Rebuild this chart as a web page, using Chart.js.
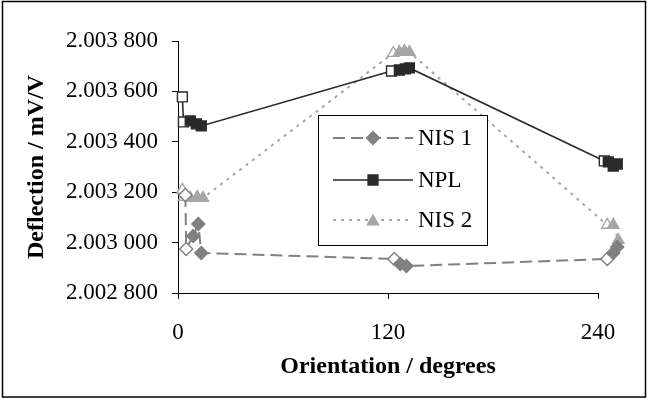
<!DOCTYPE html>
<html>
<head>
<meta charset="utf-8">
<script src="https://cdn.jsdelivr.net/npm/chart.js@4/dist/chart.umd.min.js"></script>
<style>
  html, body { margin: 0; padding: 0; background: #fff; }
  #wrap { width: 648px; height: 399px; }
</style>
</head>
<body>
<div id="wrap"><canvas id="c" width="648" height="399"></canvas></div>
<script>
// Series names and axis ticks
const seriesNames = ['NIS 1', 'NPL', 'NIS 2'];
const xTicks = [0, 120, 240];
const yTicks = [2.0028, 2.0030, 2.0032, 2.0034, 2.0036, 2.0038];

// Readings: orientation in degrees (offset slightly within each group) and deflection in mV/V.
// Open markers flag the first readings of a group.
const nis1X = [4.2, 4.7, 8.7, 11.6, 13.3, 123.6, 127.0, 130.5, 245.3, 248.7, 251.0];
const nis1Y = [2.003189, 2.002975, 2.003026, 2.003074, 2.002959, 2.002935, 2.002915, 2.002907, 2.002935, 2.002959, 2.002983];
const nis1Open = [1, 1, 0, 0, 0, 1, 0, 0, 1, 0, 0];

const nplX = [2.5, 3.1, 7.0, 10.5, 13.3, 122.0, 126.5, 129.9, 132.2, 243.6, 245.9, 248.7, 251.0];
const nplY = [2.003578, 2.003479, 2.003483, 2.003471, 2.003463, 2.003681, 2.003685, 2.003689, 2.003693, 2.003324, 2.003320, 2.003304, 2.003312];
const nplOpen = [1, 1, 0, 0, 0, 1, 0, 0, 0, 1, 0, 0, 0];

const nis2X = [2.5, 3.5, 7.0, 11.0, 14.3, 123.0, 126.5, 129.4, 132.2, 245.3, 248.7, 251.6];
const nis2Y = [2.003209, 2.003181, 2.003177, 2.003181, 2.003177, 2.003752, 2.003756, 2.003760, 2.003756, 2.003070, 2.003070, 2.003010];
const nis2Open = [1, 1, 0, 0, 0, 1, 0, 0, 0, 1, 0, 0];

const points = (xs, ys) => xs.map((x, i) => ({ x: x, y: ys[i] }));
const fills = (open, color) => open.map(o => (o ? '#ffffff' : color));

const SERIF = '"Liberation Serif", "Times New Roman", Times, serif';

const styles = [
  { color: '#808080', dash: [12, 6], width: 2, marker: 'rectRot', radius: 6.5 },
  { color: '#2a2a2a', dash: [], width: 1.6, marker: 'rect', radius: 7 },
  { color: '#a6a6a6', dash: [3, 5], width: 2, marker: 'triangle', radius: 6.5 }
];

const seriesData = [
  { xs: nis1X, ys: nis1Y, open: nis1Open },
  { xs: nplX, ys: nplY, open: nplOpen },
  { xs: nis2X, ys: nis2Y, open: nis2Open }
];

const datasets = seriesData.map((s, i) => ({
  label: seriesNames[i],
  data: points(s.xs, s.ys),
  showLine: true,
  tension: 0,
  clip: false,
  borderColor: styles[i].color,
  borderWidth: styles[i].width,
  borderDash: styles[i].dash,
  pointStyle: styles[i].marker,
  pointRadius: styles[i].radius,
  pointHoverRadius: styles[i].radius,
  pointBackgroundColor: fills(s.open, styles[i].color),
  pointBorderColor: styles[i].color,
  pointBorderWidth: 1.4
}));

// Marker shapes for the boxed legend
function drawMarker(ctx, kind, x, y, r) {
  ctx.beginPath();
  if (kind === 'rect') {
    const h = r * Math.SQRT1_2;
    ctx.rect(x - h, y - h, 2 * h, 2 * h);
  } else if (kind === 'rectRot') {
    ctx.moveTo(x, y - r); ctx.lineTo(x + r, y); ctx.lineTo(x, y + r); ctx.lineTo(x - r, y); ctx.closePath();
  } else {
    for (let k = 0; k < 3; k++) {
      const t = -Math.PI / 2 + k * 2 * Math.PI / 3;
      const px = x + r * Math.cos(t), py = y + r * Math.sin(t) + r * 0.25;
      if (k === 0) ctx.moveTo(px, py); else ctx.lineTo(px, py);
    }
    ctx.closePath();
  }
  ctx.fill();
  ctx.stroke();
}

// Markers past the 240 degree end of the axis are still drawn
const markerArea = {
  id: 'markerArea',
  beforeDatasetsDraw(chart) {
    chart.$savedArea = chart.chartArea;
    chart.chartArea = Object.assign({}, chart.chartArea, { right: chart.width });
  },
  afterDatasetsDraw(chart) {
    if (chart.$savedArea) chart.chartArea = chart.$savedArea;
  }
};

const boxLegend = {
  id: 'boxLegend',
  afterDraw(chart) {
    const ctx = chart.ctx;
    const bx = 318, by = 115, bw = 169, bh = 130;
    ctx.save();
    ctx.fillStyle = '#fff';
    ctx.fillRect(bx, by, bw, bh);
    ctx.strokeStyle = '#000';
    ctx.lineWidth = 1;
    ctx.setLineDash([]);
    ctx.strokeRect(bx + 0.5, by + 0.5, bw, bh);
    const rows = [138, 180, 220];
    chart.data.datasets.forEach((ds, i) => {
      const y = rows[i];
      const st = styles[i];
      ctx.strokeStyle = st.color;
      ctx.lineWidth = st.width;
      ctx.setLineDash(st.dash);
      ctx.beginPath();
      ctx.moveTo(333, y); ctx.lineTo(413, y);
      ctx.stroke();
      ctx.setLineDash([]);
      ctx.fillStyle = st.color;
      ctx.lineWidth = 1.4;
      drawMarker(ctx, st.marker, 373, y, st.radius);
      ctx.fillStyle = '#000';
      ctx.font = '23px ' + SERIF;
      ctx.textBaseline = 'middle';
      ctx.textAlign = 'left';
      ctx.fillText(ds.label, 418, y + 1);
    });
    // frame around the whole figure
    ctx.strokeStyle = '#000';
    ctx.lineWidth = 1.5;
    ctx.strokeRect(2.5, 1.5, 643, 395.5);
    ctx.restore();
  }
};

const yLabel = v => {
  const s = v.toFixed(6);
  return s.slice(0, 5) + ' ' + s.slice(5);
};

new Chart(document.getElementById('c'), {
  type: 'scatter',
  data: { datasets: datasets },
  options: {
    responsive: false,
    animation: false,
    devicePixelRatio: 1,
    layout: { padding: { top: 41, right: 50, left: 0, bottom: 0 } },
    plugins: { legend: { display: false }, tooltip: { enabled: false } },
    scales: {
      x: {
        type: 'linear',
        bounds: 'data',
        // axis spans 0-240; the last readings of each group sit just past 240 and stay drawn
        afterDataLimits: s => { s.min = xTicks[0]; s.max = xTicks[xTicks.length - 1]; },
        afterBuildTicks: s => { s.ticks = xTicks.map(v => ({ value: v })); },
        afterFit: s => { s.height = 106; },
        grid: { display: true, drawOnChartArea: false, drawTicks: true, tickLength: 6, color: '#000', lineWidth: 1 },
        border: { display: true, color: '#000', width: 1 },
        ticks: { color: '#000', font: { family: SERIF, size: 23 }, padding: 20, maxRotation: 0 },
        title: { display: true, text: 'Orientation / degrees', color: '#000', font: { family: SERIF, size: 24, weight: 'bold' }, padding: { top: 0, bottom: 18 } }
      },
      y: {
        type: 'linear',
        min: 2.0028,
        max: 2.0038,
        afterBuildTicks: s => { s.ticks = yTicks.map(v => ({ value: v })); },
        afterFit: s => { s.width = 178; },
        grid: { display: true, drawOnChartArea: false, drawTicks: true, tickLength: 6, color: '#000', lineWidth: 1 },
        border: { display: true, color: '#000', width: 1 },
        ticks: { color: '#000', font: { family: SERIF, size: 23 }, padding: 14, callback: yLabel },
        title: { display: true, text: 'Deflection / mV/V', color: '#000', font: { family: SERIF, size: 24, weight: 'bold' }, padding: { top: 22, bottom: 0 } }
      }
    }
  },
  plugins: [markerArea, boxLegend]
});
</script>
</body>
</html>
